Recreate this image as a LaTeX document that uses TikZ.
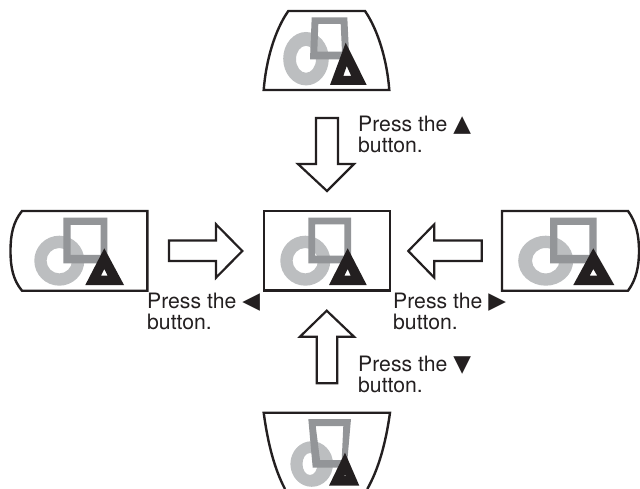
\documentclass[tikz,border=0pt]{standalone}
\usepackage{fontspec}
\setmainfont{TeX Gyre Heros}
\newfontfamily\symfont{DejaVu Sans}
\definecolor{ink}{HTML}{231F20}
\definecolor{ringgray}{HTML}{BCBEC0}
\definecolor{framegray}{HTML}{939598}
\tikzset{
  outline/.style={draw=ink,line width=2.4pt,line join=miter,fill=white},
  arrowshape/.style={draw=ink,line width=2.2pt,line join=miter,fill=white},
  ringshape/.style={fill=ringgray,even odd rule},
  frameshape/.style={fill=framegray,even odd rule},
  triangleshape/.style={fill=ink,even odd rule},
  label/.style={inner sep=0pt,anchor=base west,align=left,text=ink,font=\fontsize{21.2}{21}\selectfont},
}
\newcommand{\btn}[1]{{\symfont\fontsize{23}{21}\selectfont #1}}
\begin{document}
\begin{tikzpicture}[x=1pt,y=-1pt]
\useasboundingbox (0,0) rectangle (640,489);
% top view
\draw[outline] (263.7,90) .. controls (266,60) and (275,30) .. (288.3,11) -- (365,11) .. controls (378,30) and (387,60) .. (389.3,90) -- cycle;
\fill[ringgray,even odd rule] (306,58.7) ellipse [x radius=22.8,y radius=26.7] (306,59.3) ellipse [x radius=10,y radius=13.5];
\fill[frameshape] (311.7,17.3) -- (347.3,17.3) -- (349.3,59.3) -- (310,59.3) -- cycle (318.3,24) -- (340.7,24) -- (342,51.7) -- (317.3,51.7) -- cycle;
\fill[triangleshape] (345.7,42.7) -- (366.7,85) -- (330,85) -- cycle (346.7,66) -- (351.3,76) -- (343.3,76) -- cycle;
% left view
\draw[outline] (147.3,211) -- (22,211) .. controls (13,222) and (10.5,235) .. (10.5,251) .. controls (10.5,267) and (13,280) .. (22,290.7) -- (147.3,290.7) -- cycle;
\fill[ringshape] (59.3,260.7) circle [radius=25] (59.3,260.7) circle [radius=12.7];
\fill[frameshape] (63.3,217.7) rectangle (107.3,263.3) (70.7,225) rectangle (100.7,255);
\fill[triangleshape] (104.3,248.3) -- (124,285) -- (85.3,285) -- cycle (104.3,269) -- (107.7,275.7) -- (101,275.7) -- cycle;
% centre view
\draw[outline] (264,211) rectangle (390,290.5);
\fill[ringshape] (305.3,260.7) circle [radius=25] (305.3,260.7) circle [radius=12.7];
\fill[frameshape] (308.3,217.7) rectangle (351,263.3) (315,224.3) rectangle (344.3,255.7);
\fill[triangleshape] (347.7,248.3) -- (366.7,285) -- (329,285) -- cycle (347.7,269) -- (350.7,275.7) -- (344.3,275.7) -- cycle;
% right view
\draw[outline] (502,211) -- (628,211) .. controls (636,222) and (639,235) .. (639,251) .. controls (639,267) and (636,280) .. (628,290.7) -- (502,290.7) -- cycle;
\fill[ringshape] (545.7,260.7) ellipse [x radius=27.5,y radius=25] (545.7,260.7) ellipse [x radius=13.7,y radius=12.7];
\fill[frameshape] (550,217.7) rectangle (596.7,263.3) (557.3,225) rectangle (589.3,255);
\fill[triangleshape] (593.3,248.3) -- (614.3,285) -- (573.3,285) -- cycle (593.3,269) -- (597.3,275.7) -- (589.7,275.7) -- cycle;
% bottom view
\draw[draw=ink,line width=2.4pt,line join=miter] (285,489) .. controls (275,470) and (268,445) .. (263.7,412.7) -- (390,412.7) .. controls (385.5,445) and (378,470) .. (367.3,489);
\fill[ringshape] (311.7,464) ellipse [x radius=21.3,y radius=22.8] (310,464) ellipse [x radius=7.5,y radius=11];
\fill[frameshape] (308.3,419) -- (351,419) -- (346.7,467.7) -- (312.7,467.7) -- cycle (315.7,426) -- (343.3,426) -- (341.7,460) -- (320,460) -- cycle;
\fill[triangleshape] (345,452.7) -- (359.3,485.7) -- (329,485.7) -- cycle;
\fill[white] (345,475.7) circle [radius=0.5];
% arrows
\draw[arrowshape] (316,118) -- (338,118) -- (338,164) -- (354,164) -- (327,191) -- (298,164) -- (316,164) -- cycle;
\draw[arrowshape] (326.7,310.7) -- (354,336.7) -- (337.3,336.7) -- (337.3,383.3) -- (316.7,383.3) -- (316.7,336.7) -- (300,336.7) -- cycle;
\draw[arrowshape] (169,240.5) -- (216,240.5) -- (216,224.3) -- (242.3,251) -- (216,277.7) -- (216,261) -- (169,261) -- cycle;
\draw[arrowshape] (481.7,240.5) -- (434.3,240.5) -- (434.3,224.3) -- (408.3,251) -- (434.3,277.7) -- (434.3,261) -- (481.7,261) -- cycle;
% labels
\node[label] (labelup) at (358,152.7) {Press the \btn{▲}\\button.};
\node[label] (labelleft) at (147,329) {Press the \btn{◀}\\button.};
\node[label] (labelright) at (393,329) {Press the \btn{▶}\\button.};
\node[label] (labeldown) at (358,392.7) {Press the \btn{▼}\\button.};
\end{tikzpicture}
\end{document}
